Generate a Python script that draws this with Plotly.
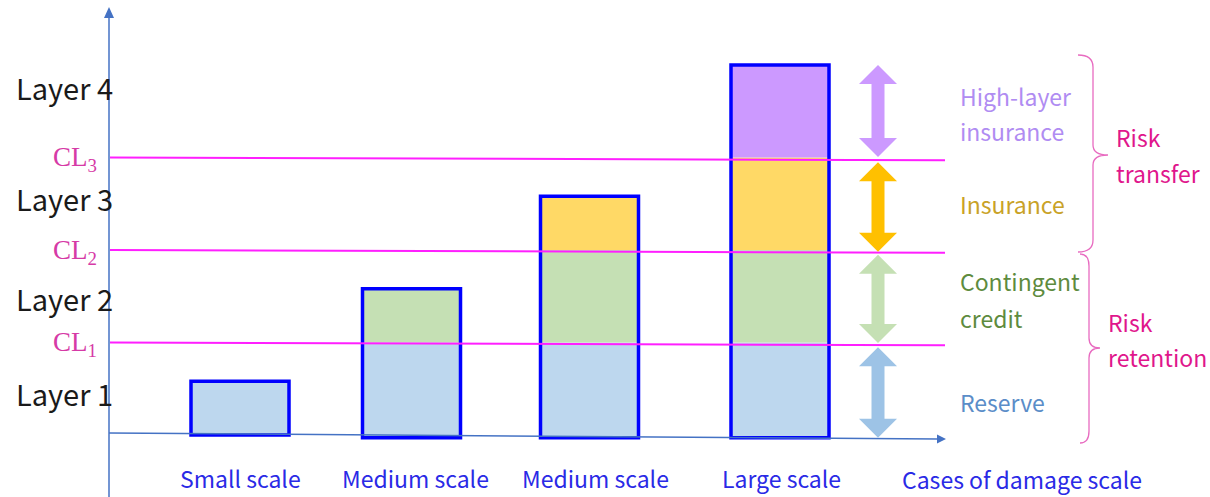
import plotly.graph_objects as go

# ---------------- data ----------------
cases = ["Small scale", "Medium scale", "Medium scale", "Large scale"]
damage_totals = [0.58, 1.58, 2.58, 4.0]          # damage size in layer units
layer_names = ["Layer 1", "Layer 2", "Layer 3", "Layer 4"]
cl_levels = [1, 2, 3]
cl_labels = ["CL<sub>1</sub>", "CL<sub>2</sub>", "CL<sub>3</sub>"]
instruments = [["Reserve"], ["Contingent", "credit"], ["Insurance"], ["High-layer", "insurance"]]
groups = [["Risk", "retention"], ["Risk", "transfer"]]
axis_title = "Cases of damage scale"

# ---------------- styles ----------------
seg_fill = ["#BDD7EE", "#C5E0B4", "#FFD966", "#CC99FF"]
arrow_fill = ["#9DC3E6", "#C5E0B4", "#FFC000", "#CC99FF"]
text_col = ["#5B8DC8", "#5E8B3E", "#C9A227", "#B08CF2"]
MAG = "#E0168C"
LINE_MAG = "#FF1FFF"
AX = "#4472C4"
BLUE = "#0000FF"
CAT_BLUE = "#2A2AE6"
FONT = "Noto Sans CJK JP"

W, H = 1210, 497
BASE_PX, UNIT_PX = 435.0, 92.5


def py(px):
    """pixel row -> layer units"""
    return (BASE_PX - px) / UNIT_PX


bar_x = [240, 411.5, 589.5, 780]
bar_w = 98
arrow_x = 878
bounds = [0] + cl_levels + [4]

fig = go.Figure()

# stacked segments
for k in range(4):
    lo, hi = bounds[k], bounds[k + 1]
    xs, bases, vals = [], [], []
    for i, t in enumerate(damage_totals):
        if t > lo:
            xs.append(bar_x[i])
            b = lo if k > 0 else (0 if i == 0 else -0.03)
            bases.append(b)
            vals.append(min(t, hi) - b)
    fig.add_trace(go.Bar(x=xs, y=vals, base=bases, width=bar_w,
                         marker=dict(color=seg_fill[k], line=dict(width=0)),
                         hoverinfo="skip", showlegend=False))

# outlines
out_base = [0 if i == 0 else -0.03 for i in range(4)]
fig.add_trace(go.Bar(x=bar_x,
                     y=[t - b for t, b in zip(damage_totals, out_base)],
                     base=out_base,
                     width=bar_w,
                     marker=dict(color="rgba(0,0,0,0)", line=dict(color=BLUE, width=3.5)),
                     hoverinfo="skip", showlegend=False))

shapes = []
# CL lines
for lv in cl_levels:
    shapes.append(dict(type="line", xref="x", yref="y", x0=110, x1=945, y0=lv, y1=lv - 0.03,
                       line=dict(color=LINE_MAG, width=2)))

# axes
shapes.append(dict(type="line", xref="x", yref="y", x0=109, x1=109, y0=py(W), y1=py(16),
                   line=dict(color=AX, width=1.5)))
shapes.append(dict(type="path", xref="x", yref="y",
                   path=f"M 104 {py(18)} L 114 {py(18)} L 109 {py(7)} Z",
                   fillcolor=AX, line=dict(width=0)))
shapes.append(dict(type="line", xref="x", yref="y", x0=109, x1=938, y0=py(433), y1=py(439),
                   line=dict(color=AX, width=1.5)))
shapes.append(dict(type="path", xref="x", yref="y",
                   path=f"M 937 {py(434.5)} L 946 {py(439)} L 937 {py(443.5)} Z",
                   fillcolor=AX, line=dict(width=0)))

# double arrows
hw_shaft, hw_head = 6.5, 19
head_h = 19 / UNIT_PX
arrow_ext = [(-0.03, 0.95), (0.995, 1.95), (1.98, 2.95), (3.005, 4.0)]
for k, (b, t) in enumerate(arrow_ext):
    x = arrow_x
    p = (f"M {x} {t} L {x+hw_head} {t-head_h} L {x+hw_shaft} {t-head_h} "
         f"L {x+hw_shaft} {b+head_h} L {x+hw_head} {b+head_h} L {x} {b} "
         f"L {x-hw_head} {b+head_h} L {x-hw_shaft} {b+head_h} L {x-hw_shaft} {t-head_h} "
         f"L {x-hw_head} {t-head_h} Z")
    shapes.append(dict(type="path", xref="x", yref="y", path=p,
                       fillcolor=arrow_fill[k], line=dict(width=0)))


# braces
def brace(x_end, x_mid, x_tip, y_top, y_tip, y_bot):
    return (f"M {x_end} {py(y_top)} Q {x_mid} {py(y_top)} {x_mid} {py(y_top + 12)} "
            f"L {x_mid} {py(y_tip - 10)} Q {x_mid} {py(y_tip)} {x_tip} {py(y_tip)} "
            f"Q {x_mid} {py(y_tip)} {x_mid} {py(y_tip + 10)} "
            f"L {x_mid} {py(y_bot - 12)} Q {x_mid} {py(y_bot)} {x_end} {py(y_bot)}")


shapes.append(dict(type="path", xref="x", yref="y", path=brace(1078, 1093, 1108, 55, 155, 252),
                   line=dict(color="#E86BC0", width=1.3)))
shapes.append(dict(type="path", xref="x", yref="y", path=brace(1080, 1089, 1100, 254, 348, 443),
                   line=dict(color="#E86BC0", width=1.3)))

anns = []
# layer labels
layer_y = [393, 298, 198, 87]
for name, yy in zip(layer_names, layer_y):
    anns.append(dict(x=64, y=py(yy), text=name, showarrow=False, xanchor="center", yanchor="middle",
                     font=dict(family=FONT, size=29, color="#1a1a1a")))
# CL labels
cl_y = [344, 252, 159]
for lab, yy in zip(cl_labels, cl_y):
    anns.append(dict(x=99, y=py(yy), text=lab, showarrow=False, xanchor="right", yanchor="middle",
                     font=dict(family="Liberation Serif", size=27, color="#D63AA6")))
# instrument labels (one annotation per line)
inst_y = [[402], [281, 318], [204], [96, 131]]
for k, (lines, ys) in enumerate(zip(instruments, inst_y)):
    for ln, yy in zip(lines, ys):
        anns.append(dict(x=958, y=py(yy), text=ln, showarrow=False, xanchor="left", yanchor="middle",
                         font=dict(family=FONT, size=23, color=text_col[k])))
# group labels
grp_pos = [(1106, [322, 357]), (1114, [137, 173])]
for lines, (xx, ys) in zip(groups, grp_pos):
    for ln, yy in zip(lines, ys):
        anns.append(dict(x=xx, y=py(yy), text=ln, showarrow=False, xanchor="left", yanchor="middle",
                         font=dict(family=FONT, size=23, color=MAG)))
# category labels
for lab, xx in zip(cases, [240, 415, 595, 781]):
    anns.append(dict(x=xx, y=py(478), text=lab, showarrow=False, xanchor="center", yanchor="middle",
                     font=dict(family=FONT, size=23, color=CAT_BLUE)))
anns.append(dict(x=1022, y=py(479), text=axis_title, showarrow=False, xanchor="center",
                 yanchor="middle", font=dict(family=FONT, size=23, color=CAT_BLUE)))

fig.update_layout(
    width=W, height=H, margin=dict(l=0, r=0, t=0, b=0),
    paper_bgcolor="white", plot_bgcolor="white",
    barmode="overlay", showlegend=False,
    xaxis=dict(range=[0, W], visible=False, fixedrange=True),
    yaxis=dict(range=[py(H), py(0)], visible=False, fixedrange=True),
    shapes=shapes, annotations=anns,
)

fig.write_html("out.html", config={"displayModeBar": False},
               post_script="document.body.style.margin='0';document.body.style.overflow='hidden';")
